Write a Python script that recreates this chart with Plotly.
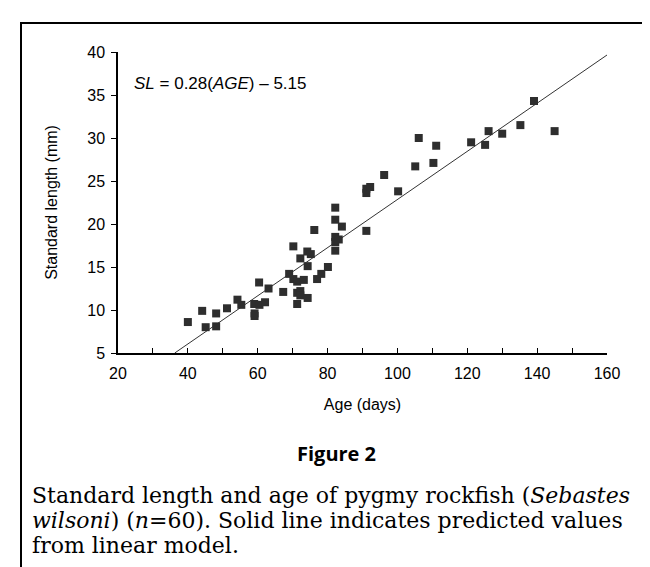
import plotly.graph_objects as go

# Data
age_days = [40.0, 44.1, 45.1, 48.1, 48.1, 51.2, 54.2, 55.3, 59.0, 59.1,
            59.1, 60.4, 60.5, 62.1, 63.1, 67.3, 69.0, 70.2, 70.2, 71.3,
            71.3, 71.3, 72.2, 72.2, 72.2, 73.2, 74.2, 74.3, 74.3, 75.2,
            76.2, 77.0, 78.2, 80.1, 82.2, 82.2, 82.2, 82.2, 82.2, 83.2,
            84.1, 91.1, 91.1, 92.2, 91.1, 96.2, 100.2, 105.1, 106.1, 110.3,
            111.1, 121.1, 125.1, 126.1, 130.0, 135.2, 139.1, 145.0]
standard_length_mm = [8.6, 9.9, 8.0, 9.6, 8.1, 10.2, 11.2, 10.6, 10.7, 9.6,
                      9.3, 13.2, 10.6, 10.9, 12.5, 12.1, 14.2, 17.4, 13.6, 13.3,
                      12.0, 10.7, 16.0, 12.2, 11.7, 13.5, 16.8, 15.1, 11.4, 16.5,
                      19.3, 13.6, 14.2, 15.0, 21.9, 20.5, 18.5, 17.9, 16.9, 18.2,
                      19.7, 24.1, 23.6, 24.3, 19.2, 25.7, 23.8, 26.7, 30.0, 27.1,
                      29.1, 29.5, 29.2, 30.8, 30.5, 31.5, 34.3, 30.8]

# Linear model SL = 0.28(AGE) - 5.15, drawn between its ends inside the axes
fit_age = [36.25, 160.0]
fit_sl = [5.0, 39.65]

x_tick_vals = [20, 30, 40, 50, 60, 70, 80, 90, 100, 110, 120, 130, 140, 150, 160]
x_tick_text = ["20", "", "40", "", "60", "", "80", "", "100", "", "120", "", "140", "", "160"]
y_tick_vals = [5, 10, 15, 20, 25, 30, 35, 40]

equation_text = "<i>SL</i> = 0.28(<i>AGE</i>) – 5.15"
figure_title = "<b>Figure 2</b>"
caption_lines = [
    "Standard length and age of pygmy rockfish (<i>Sebastes</i>",
    "<i>wilsoni</i>) (<i>n</i>=60). Solid line indicates predicted values",
    "from linear model.",
]

W, H = 650, 567
L, R, T, B = 110, 599, 44, 345  # plot area in pixels
pw, ph = R - L, B - T


def px(xp):
    return (xp - L) / pw


def py(yp):
    return (B - yp) / ph


fig = go.Figure()
fig.add_trace(go.Scatter(x=fit_age, y=fit_sl, mode="lines",
                         line=dict(color="#333333", width=1), hoverinfo="skip",
                         showlegend=False))
fig.add_trace(go.Scatter(x=age_days, y=standard_length_mm, mode="markers",
                         marker=dict(symbol="square", size=8, color="#2e2e2e",
                                     line=dict(width=0)),
                         showlegend=False))

sans = "Liberation Sans, Arial, sans-serif"
fig.update_layout(
    width=W, height=H,
    margin=dict(l=L, r=W - R, t=T, b=H - B, pad=0),
    paper_bgcolor="white", plot_bgcolor="white",
    font=dict(family=sans, size=16, color="black"),
    xaxis=dict(range=[20, 160], tickvals=x_tick_vals, ticktext=x_tick_text,
               ticks="inside", ticklen=5, tickwidth=1, tickcolor="black",
               showline=True, linecolor="black", linewidth=1.5,
               showgrid=False, zeroline=False, ticklabelstandoff=5,
               tickfont=dict(family=sans, size=16),
               title=dict(text="Age (days)", font=dict(family=sans, size=16), standoff=18)),
    yaxis=dict(range=[5, 40], tickvals=y_tick_vals,
               ticks="outside", ticklen=5, tickwidth=1, tickcolor="black",
               showline=True, linecolor="black", linewidth=1.5,
               showgrid=False, zeroline=False, ticklabelstandoff=3,
               tickfont=dict(family=sans, size=16),
               title=dict(text="Standard length (mm)", font=dict(family=sans, size=16), standoff=26)),
)

# Equation
fig.add_annotation(x=px(124), y=py(75), xref="paper", yref="paper",
                   text=equation_text, showarrow=False, xanchor="left", yanchor="middle",
                   font=dict(family=sans, size=17, color="black"))

# Figure title and caption
fig.add_annotation(x=px(W / 2 + 3), y=py(445), xref="paper", yref="paper",
                   text=figure_title, showarrow=False, xanchor="center", yanchor="middle",
                   font=dict(family="Open Sans, sans-serif", size=20, color="black"))
for i, line in enumerate(caption_lines):
    fig.add_annotation(x=px(22), y=py(487 + 25 * i), xref="paper", yref="paper",
                       text=line, showarrow=False, xanchor="left", yanchor="middle",
                       font=dict(family="DejaVu Serif, serif", size=22, color="black"))

# Outer frame
fig.add_shape(type="rect", xref="paper", yref="paper",
              x0=px(13), x1=px(648), y0=py(H + 10), y1=py(15),
              line=dict(color="black", width=2), fillcolor="rgba(0,0,0,0)")

fig.write_html("out.html")
